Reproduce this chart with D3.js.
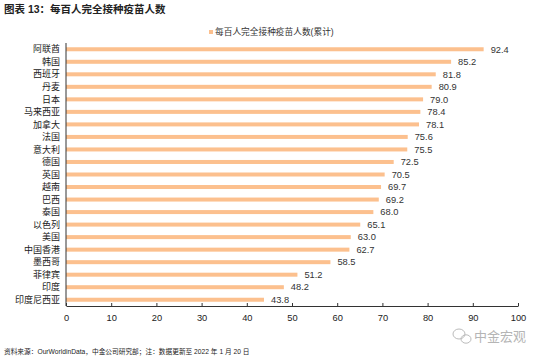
<!DOCTYPE html>
<html>
<head>
<meta charset="utf-8">
<script src="https://cdn.jsdelivr.net/npm/d3@7"></script>
<style>
body { margin: 0; background: #fff; }
text { font-family: "Liberation Sans", "Noto Sans CJK SC", sans-serif; }
</style>
</head>
<body>
<svg id="chart"></svg>
<script>
let svgW = 550, svgH = 361;

let margin = {
    top: 43,
    right: 32,
    bottom: 55,
    left: 66
}

// data
let countries = ["阿联酋", "韩国", "西班牙", "丹麦", "日本", "马来西亚", "加拿大", "法国", "意大利", "德国",
    "英国", "越南", "巴西", "泰国", "以色列", "美国", "中国香港", "墨西哥", "菲律宾", "印度", "印度尼西亚"];
let values = [92.4, 85.2, 81.8, 80.9, 79.0, 78.4, 78.1, 75.6, 75.5, 72.5,
    70.5, 69.7, 69.2, 68.0, 65.1, 63.0, 62.7, 58.5, 51.2, 48.2, 43.8];
let xTicks = [0, 10, 20, 30, 40, 50, 60, 70, 80, 90, 100];
let seriesName = "每百人完全接种疫苗人数(累计)";

let data = countries.map(function (c, i) {
    return { name: c, value: values[i] };
});

let svg = d3.select("#chart")
    .attr("width", svgW)
    .attr("height", svgH)

let xScale = d3.scaleLinear()
    .domain([0, 100])
    .range([margin.left, svgW - margin.right])

let yScale = d3.scaleBand()
    .domain(countries)
    .range([margin.top, svgH - margin.bottom])
    .paddingInner(0.68)
    .paddingOuter(0.34)

// title
svg.append("text")
    .attr("x", 4)
    .attr("y", 13)
    .attr("font-size", 10.5)
    .attr("font-weight", "bold")
    .attr("fill", "#222")
    .text("图表 13：每百人完全接种疫苗人数")

// legend
svg.append("rect")
    .attr("x", 209)
    .attr("y", 30)
    .attr("width", 4)
    .attr("height", 4)
    .attr("fill", "#fcc08e")
svg.append("text")
    .attr("x", 215)
    .attr("y", 35)
    .attr("font-size", 8.7)
    .attr("fill", "#333")
    .text(seriesName)

// bars
svg.selectAll("rect.bar")
    .data(data)
    .enter()
    .append("rect")
    .attr("class", "bar")
    .attr("x", xScale(0))
    .attr("y", function (d) { return yScale(d.name); })
    .attr("width", function (d) { return xScale(d.value) - xScale(0); })
    .attr("height", yScale.bandwidth())
    .attr("fill", "#fcc08e")

// value labels
svg.selectAll("text.val")
    .data(data)
    .enter()
    .append("text")
    .attr("class", "val")
    .attr("x", function (d) { return xScale(d.value) + 7; })
    .attr("y", function (d) { return yScale(d.name) + yScale.bandwidth() / 2; })
    .attr("dy", "0.35em")
    .attr("font-size", 9.3)
    .attr("fill", "#333")
    .text(function (d) { return d.value.toFixed(1); })

// category labels
svg.selectAll("text.cat")
    .data(data)
    .enter()
    .append("text")
    .attr("class", "cat")
    .attr("x", margin.left - 6)
    .attr("y", function (d) { return yScale(d.name) + yScale.bandwidth() / 2; })
    .attr("dy", "0.35em")
    .attr("text-anchor", "end")
    .attr("font-size", 9)
    .attr("fill", "#222")
    .text(function (d) { return d.name; })

// y axis line
svg.append("line")
    .attr("x1", margin.left)
    .attr("x2", margin.left)
    .attr("y1", margin.top)
    .attr("y2", svgH - margin.bottom)
    .attr("stroke", "#333")
    .attr("stroke-width", 1)

// x axis
let xAxis = d3.axisBottom(xScale)
    .tickValues(xTicks)
    .tickSizeInner(-3)
    .tickSizeOuter(0)
    .tickPadding(8)

let gx = svg.append("g")
    .attr("class", "x axis")
    .attr("transform", "translate(0," + (svgH - margin.bottom) + ")")
    .call(xAxis)
gx.select(".domain").attr("stroke", "#333")
gx.selectAll("line").attr("stroke", "#333")
gx.selectAll("text")
    .attr("font-size", 9.3)
    .attr("fill", "#222")
    .attr("font-family", "Liberation Sans, sans-serif")

// watermark
let wm = svg.append("g").attr("fill", "none").attr("stroke", "#bbb").attr("stroke-width", 1)
wm.append("ellipse").attr("cx", 459).attr("cy", 334).attr("rx", 6).attr("ry", 5)
wm.append("ellipse").attr("cx", 466).attr("cy", 339).attr("rx", 5).attr("ry", 4.2)
svg.append("text")
    .attr("x", 474)
    .attr("y", 341)
    .attr("font-size", 13)
    .attr("fill", "#b5b5b5")
    .text("中金宏观")

// footer
svg.append("text")
    .attr("x", 4)
    .attr("y", 354)
    .attr("font-size", 6.7)
    .attr("fill", "#222")
    .text("资料来源：OurWorldinData，中金公司研究部；注：数据更新至 2022 年 1 月 20 日")
</script>
</body>
</html>
